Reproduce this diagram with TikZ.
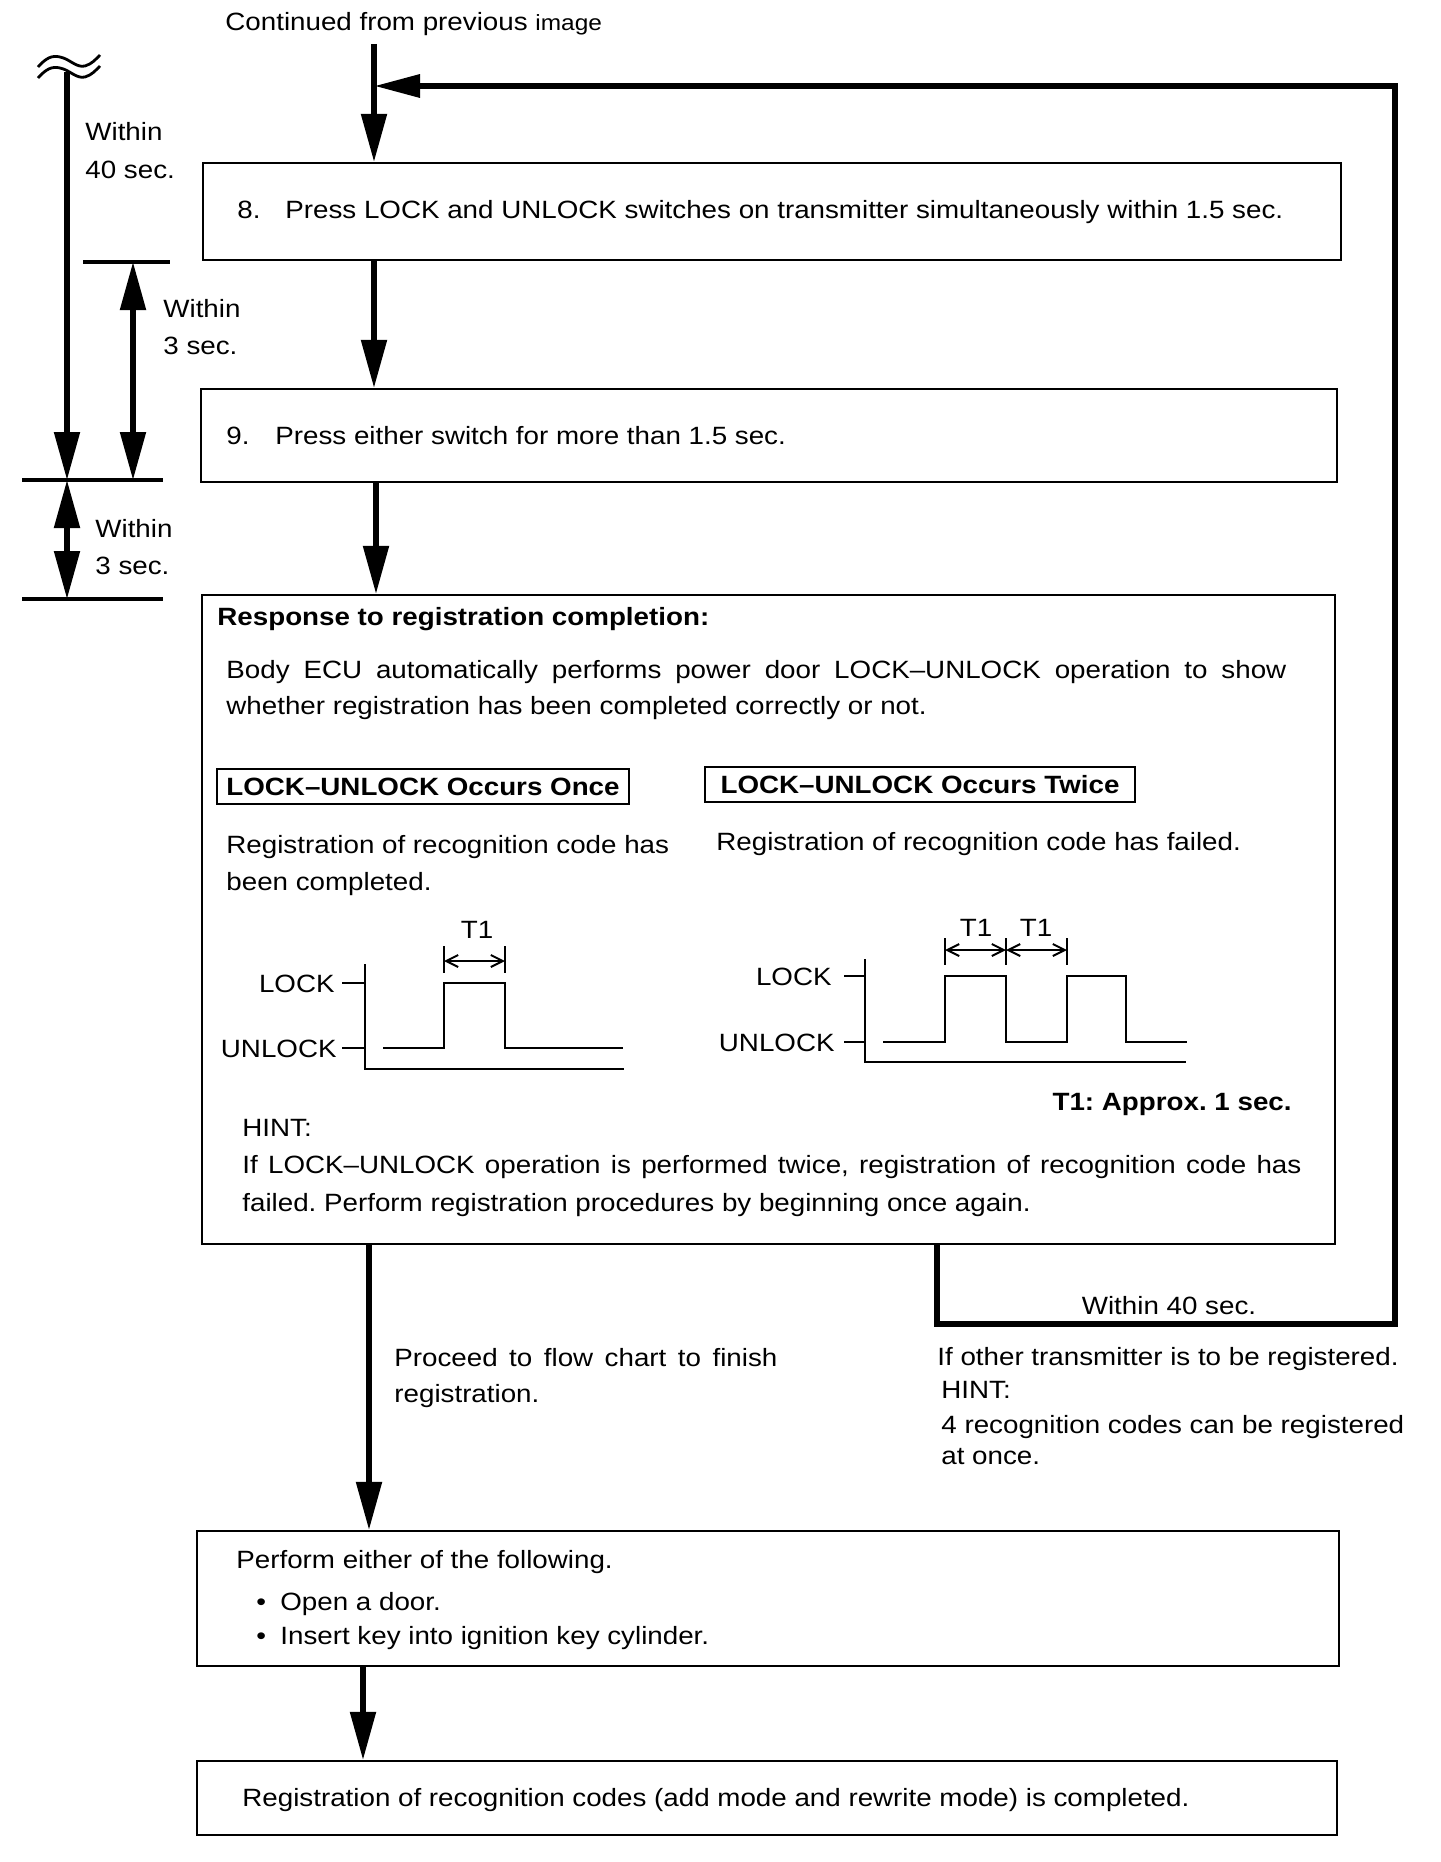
\documentclass[tikz,border=0pt]{standalone}
\usepackage{fontspec}
\setmainfont{Liberation Sans}[FakeStretch=1.11]
\usetikzlibrary{arrows.meta,fit}
\frenchspacing
\newcommand{\myfs}{\fontsize{12.5pt}{15pt}\selectfont}
\newcommand{\mysmall}{\fontsize{11pt}{13pt}\selectfont}
\begin{document}
\begin{tikzpicture}[x=0.5pt,y=-0.5pt,
  txt/.style={anchor=base west, inner sep=0pt, font=\myfs},
  txtb/.style={txt, font=\myfs\bfseries},
  boxst/.style={draw, line width=1.1pt, inner sep=0pt},
  flow/.style={line width=2.6pt, -{Triangle[length=24pt,width=12.5pt]}},
  loopst/.style={line width=3.2pt, line join=miter, -{Triangle[length=23pt,width=11pt]}},
  tim/.style={line width=2.6pt},
  tick/.style={line width=1.6pt},
  sig/.style={line width=1.1pt, line join=miter},
  dim/.style={line width=1pt, {Straight Barb[length=6pt,width=6pt]}-{Straight Barb[length=6pt,width=6pt]}},
  tri/.style={-{Triangle[length=24pt,width=12.5pt]}},
  tritri/.style={{Triangle[length=24pt,width=12.5pt]}-{Triangle[length=24pt,width=12.5pt]}}]
\useasboundingbox (0,0) rectangle (1440,1862);

% ---------- boxes ----------
\node[boxst, fit={(203,163)(1341,260)}] (b8) {};
\node[boxst, fit={(201,389)(1337,482)}] (b9) {};
\node[boxst, fit={(202,595)(1335,1244)}] (resp) {};
\node[boxst, fit={(197,1531)(1339,1666)}] (perf) {};
\node[boxst, fit={(197,1761)(1337,1835)}] (fin) {};

% ---------- texts ----------
\node[txt] (cont) at (225,31) {Continued from previous {\mysmall image}};
\node[txt] (t8n) at (237,219) {8.};
\node[txt] (t8) at (285,219) {Press LOCK and UNLOCK switches on transmitter simultaneously within 1.5 sec.};
\node[txt] (t9n) at (226,444) {9.};
\node[txt] (t9) at (275,444) {Press either switch for more than 1.5 sec.};

\node[txtb] (rtitle) at (217,625) {Response to registration completion:};
\node[txt] (rb1) at (226,678) {\makebox[530pt][s]{Body ECU automatically performs power door LOCK–UNLOCK operation to show}};
\node[txt] (rb2) at (226,714) {whether registration has been completed correctly or not.};

\node[draw, line width=1pt, minimum width=206pt, minimum height=17.5pt, inner sep=0pt, font=\myfs\bfseries] (once) at (423,786.5) {LOCK–UNLOCK Occurs Once};
\node[draw, line width=1pt, minimum width=215pt, minimum height=17.5pt, inner sep=0pt, font=\myfs\bfseries] (twice) at (920,784.5) {LOCK–UNLOCK Occurs Twice};

\node[txt] (ol1) at (226,853) {Registration of recognition code has};
\node[txt] (ol2) at (226,890) {been completed.};
\node[txt] (tw1) at (716,850) {Registration of recognition code has failed.};

% timing diagram 1
\node[anchor=base east, inner sep=0pt, font=\myfs] (lk1) at (335,992) {LOCK};
\node[anchor=base east, inner sep=0pt, font=\myfs] (ul1) at (337,1057) {UNLOCK};
\draw[sig] (365,964) -- (365,1069) -- (624,1069);
\draw[sig] (342,983) -- (365,983);
\draw[sig] (342,1048) -- (365,1048);
\draw[sig] (383,1048) -- (444,1048) -- (444,983) -- (505,983) -- (505,1048) -- (623,1048);
\draw[sig] (444,946) -- (444,973);
\draw[sig] (505,946) -- (505,973);
\coordinate (d1a) at (444,961);
\coordinate (d1b) at (505,961);
\draw[dim] (d1a) -- (d1b);
\node[anchor=base, inner sep=0pt, font=\myfs] (t1a) at (477,938) {T1};

% timing diagram 2
\node[anchor=base east, inner sep=0pt, font=\myfs] (lk2) at (832,985) {LOCK};
\node[anchor=base east, inner sep=0pt, font=\myfs] (ul2) at (835,1051) {UNLOCK};
\draw[sig] (865,959) -- (865,1062) -- (1186,1062);
\draw[sig] (844,976) -- (865,976);
\draw[sig] (844,1042) -- (865,1042);
\draw[sig] (883,1042) -- (945,1042) -- (945,976) -- (1006,976) -- (1006,1042) -- (1067,1042) -- (1067,976) -- (1126,976) -- (1126,1042) -- (1187,1042);
\draw[sig] (945,938) -- (945,965);
\draw[sig] (1006,938) -- (1006,965);
\draw[sig] (1067,938) -- (1067,965);
\coordinate (d2a) at (945,950);
\coordinate (d2b) at (1006,950);
\coordinate (d2c) at (1067,950);
\draw[dim] (d2a) -- (d2b);
\draw[dim] (d2b) -- (d2c);
\node[anchor=base, inner sep=0pt, font=\myfs] (t1b) at (976,936) {T1};
\node[anchor=base, inner sep=0pt, font=\myfs] (t1c) at (1036,936) {T1};
\node[anchor=base east, inner sep=0pt, font=\myfs\bfseries] (t1ap) at (1292,1110) {T1: Approx. 1 sec.};

\node[txt] (h1) at (242,1136) {HINT:};
\node[txt] (h2) at (242,1173) {\makebox[529.5pt][s]{If LOCK–UNLOCK operation is performed twice, registration of recognition code has}};
\node[txt] (h3) at (242,1211) {failed. Perform registration procedures by beginning once again.};

% lower texts
\node[txt] (pr1) at (394,1366) {\makebox[191.5pt][s]{Proceed to flow chart to finish}};
\node[txt] (pr2) at (394,1402) {registration.};
\node[anchor=base, inner sep=0pt, font=\myfs] (w40b) at (1169,1314) {Within 40 sec.};
\node[txt] (io1) at (937,1365) {If other transmitter is to be registered.};
\node[txt] (io2) at (941,1398) {HINT:};
\node[txt] (io3) at (941,1433) {4 recognition codes can be registered};
\node[txt] (io4) at (941,1464) {at once.};

\node[txt] (pf1) at (236,1568) {Perform either of the following.};
\node[txt] (pf2) at (256,1610) {•};
\node[txt] (pf3) at (280,1610) {Open a door.};
\node[txt] (pf4) at (256,1644) {•};
\node[txt] (pf5) at (280,1644) {Insert key into ignition key cylinder.};
\node[txt] (fn) at (242,1806) {Registration of recognition codes (add mode and rewrite mode) is completed.};

% ---------- flow arrows ----------
\coordinate (start) at (374,44);
\coordinate (join) at (374,86);
\coordinate (c8) at (374,0);
\coordinate (c9) at (376,0);
\coordinate (cr) at (369,0);
\coordinate (cp) at (363,0);
\draw[flow] (start) -- (b8.north -| c8);
\draw[flow] (b8.south -| c8) -- (b9.north -| c8);
\draw[flow] (b9.south -| c9) -- (resp.north -| c9);
\draw[flow] (resp.south -| cr) -- (perf.north -| cr);
\draw[flow] (perf.south -| cp) -- (fin.north -| cp);

% feedback loop
\coordinate (fbA) at (937,1324);
\coordinate (fbB) at (1395,86);
\draw[loopst] (resp.south -| fbA) -- (fbA) -| (fbB) -- (join);

% ---------- left timing ----------
\draw[line width=1.4pt] (38,67) .. controls (46,58) and (52,55) .. (60,57) .. controls (70,59) and (76,68) .. (85,66) .. controls (92,64) and (96,59) .. (100,55);
\draw[line width=1.4pt] (38,78) .. controls (46,69) and (52,66) .. (60,68) .. controls (70,70) and (76,79) .. (85,77) .. controls (92,75) and (96,70) .. (100,66);
\coordinate (w0) at (67,72);
\coordinate (w1) at (67,480);
\draw[tim, tri] (w0) -- (w1);
\node[txt] (lw1) at (85,141) {Within};
\node[txt] (lw2) at (85,179) {40 sec.};

\draw[tick] (83,262) -- (170,262);
\coordinate (d3a) at (133,262);
\coordinate (d3b) at (133,480);
\draw[tim, tritri] (d3a) -- (d3b);
\node[txt] (lw3) at (163,317) {Within};
\node[txt] (lw4) at (163,354) {3 sec.};

\draw[tick] (22,480) -- (163,480);
\coordinate (d4a) at (67,480);
\coordinate (d4b) at (67,599);
\draw[tim, tritri] (d4a) -- (d4b);
\draw[tick] (22,599) -- (163,599);
\node[txt] (lw5) at (95,537) {Within};
\node[txt] (lw6) at (95,574) {3 sec.};
\end{tikzpicture}
\end{document}
